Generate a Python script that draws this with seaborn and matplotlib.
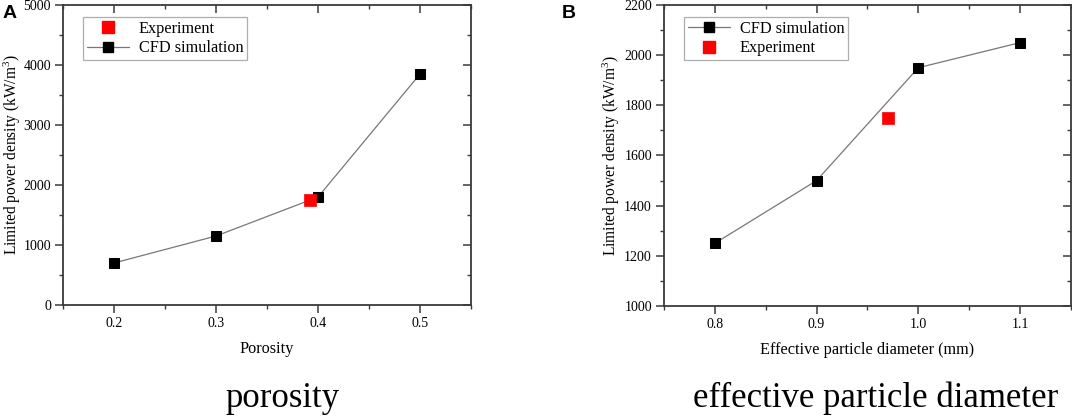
import numpy as np
import pandas as pd
import matplotlib
matplotlib.use("Agg")
import matplotlib.pyplot as plt
import seaborn as sns
from matplotlib.ticker import MultipleLocator
from matplotlib.lines import Line2D

# ---- data ----
porosity = [0.2, 0.3, 0.4, 0.5]
power_por_cfd = [700, 1150, 1800, 3850]
porosity_exp = [0.392]
power_por_exp = [1750]

diameter = [0.8, 0.9, 1.0, 1.1]
power_dia_cfd = [1250, 1500, 1950, 2050]
diameter_exp = [0.97]
power_dia_exp = [1750]

panel_letters = ["A", "B"]
xlabels = ["Porosity", "Effective particle diameter (mm)"]
ylabel = "Limited power density (kW/m$^3$)"
captions = ["porosity", "effective particle diameter"]

sns.set_theme(style="white")
plt.rcParams["font.family"] = ["Liberation Serif", "DejaVu Serif"]
plt.rcParams["mathtext.fontset"] = "custom"
plt.rcParams["mathtext.rm"] = "Liberation Serif"
plt.rcParams["mathtext.it"] = "Liberation Serif:italic"
plt.rcParams["text.color"] = "black"
plt.rcParams["axes.labelcolor"] = "black"
plt.rcParams["xtick.color"] = "black"
plt.rcParams["ytick.color"] = "black"

fig = plt.figure(figsize=(10.72, 4.17), dpi=100)
axA = fig.add_axes([0.0588, 0.2686, 0.4394 - 0.0588, 0.988 - 0.2686])
axB = fig.add_axes([0.6194, 0.2662, 0.999 - 0.6194, 0.988 - 0.2662])

spine_col = "#3a3a3a"

def style(ax, xlim, ylim, xmaj, xmin, ymaj, ymin, fmt_x):
    ax.set_xlim(*xlim)
    ax.set_ylim(*ylim)
    ax.xaxis.set_major_locator(MultipleLocator(xmaj))
    ax.xaxis.set_minor_locator(MultipleLocator(xmin))
    ax.yaxis.set_major_locator(MultipleLocator(ymaj))
    ax.yaxis.set_minor_locator(MultipleLocator(ymin))
    ax.xaxis.set_major_formatter(matplotlib.ticker.FormatStrFormatter(fmt_x))
    for s in ax.spines.values():
        s.set_visible(True)
        s.set_color(spine_col)
        s.set_linewidth(1.3)
    ax.tick_params(which="major", direction="out", length=6, width=1.1,
                   color=spine_col, labelcolor="black", labelsize=10, pad=2.7,
                   bottom=True, left=True, top=False, right=False)
    ax.tick_params(which="minor", direction="out", length=3, width=1.0,
                   color=spine_col, bottom=True, left=True, top=False, right=False)
    tx = ax.secondary_xaxis("top")
    tx.xaxis.set_major_locator(MultipleLocator(xmaj))
    tx.xaxis.set_minor_locator(MultipleLocator(xmin))
    tx.tick_params(which="major", direction="in", length=6, width=1.1, color=spine_col, labeltop=False)
    tx.tick_params(which="minor", direction="in", length=3, width=1.0, color=spine_col)
    tx.spines["top"].set_visible(False)
    ty = ax.secondary_yaxis("right")
    ty.yaxis.set_major_locator(MultipleLocator(ymaj))
    ty.yaxis.set_minor_locator(MultipleLocator(ymin))
    ty.tick_params(which="major", direction="in", length=6, width=1.1, color=spine_col, labelright=False)
    ty.tick_params(which="minor", direction="in", length=3, width=1.0, color=spine_col)
    ty.spines["right"].set_visible(False)
    ax.grid(False)

# Panel A
dfA = pd.DataFrame({"x": porosity, "y": power_por_cfd})
sns.lineplot(data=dfA, x="x", y="y", ax=axA, color="#777777", linewidth=0.9,
             marker="s", markersize=7, markerfacecolor="black",
             markeredgecolor="black", zorder=2)
sns.scatterplot(x=porosity_exp, y=power_por_exp, ax=axA, marker="s", s=70,
                color="#ff0000", edgecolor="#ff0000", linewidth=0.5, zorder=3)
style(axA, (0.15, 0.55), (0, 5000), 0.1, 0.05, 1000, 500, "%.1f")

# Panel B
dfB = pd.DataFrame({"x": diameter, "y": power_dia_cfd})
sns.lineplot(data=dfB, x="x", y="y", ax=axB, color="#777777", linewidth=0.9,
             marker="s", markersize=7, markerfacecolor="black",
             markeredgecolor="black", zorder=2)
sns.scatterplot(x=diameter_exp, y=power_dia_exp, ax=axB, marker="s", s=70,
                color="#ff0000", edgecolor="#ff0000", linewidth=0.5, zorder=3)
style(axB, (0.75, 1.15), (1000, 2200), 0.1, 0.05, 200, 100, "%.1f")

for ax, xl, lx in zip([axA, axB], xlabels, [-0.098, -0.104]):
    ax.set_xlabel(xl, fontsize=11.7, labelpad=8)
    ax.set_ylabel(ylabel, fontsize=11.2)
    ax.yaxis.set_label_coords(lx, 0.5)

h_exp = Line2D([], [], linestyle="none", marker="s", markersize=8,
               markerfacecolor="#ff0000", markeredgecolor="#ff0000")
h_cfd = Line2D([], [], color="#777777", linewidth=0.9, marker="s", markersize=7,
               markerfacecolor="black", markeredgecolor="black")

for ax, hs, labs in [(axA, [h_exp, h_cfd], ["Experiment", "CFD simulation"]),
                     (axB, [h_cfd, h_exp], ["CFD simulation", "Experiment"])]:
    leg = ax.legend(hs, labs, loc="upper left", bbox_to_anchor=(0.048, 0.96),
                    fontsize=11.7, frameon=True, fancybox=False, edgecolor="#999999",
                    handlelength=2.6, borderpad=0.25, labelspacing=0.2,
                    handletextpad=0.6, borderaxespad=0)
    leg.get_frame().set_linewidth(0.9)

# panel letters
fig.text(3 / 1072, 1 - 18 / 417, panel_letters[0], fontsize=14, fontweight="bold",
         family=["Liberation Sans", "DejaVu Sans"], ha="left", va="baseline")
fig.text(562 / 1072, 1 - 18 / 417, panel_letters[1], fontsize=14, fontweight="bold",
         family=["Liberation Sans", "DejaVu Sans"], ha="left", va="baseline")

# captions
fig.text(283 / 1072, 1 - 407 / 417, captions[0], fontsize=25, ha="center", va="baseline")
fig.text(876 / 1072, 1 - 407 / 417, captions[1], fontsize=25, ha="center", va="baseline")

fig.savefig("out.png", dpi=100)
